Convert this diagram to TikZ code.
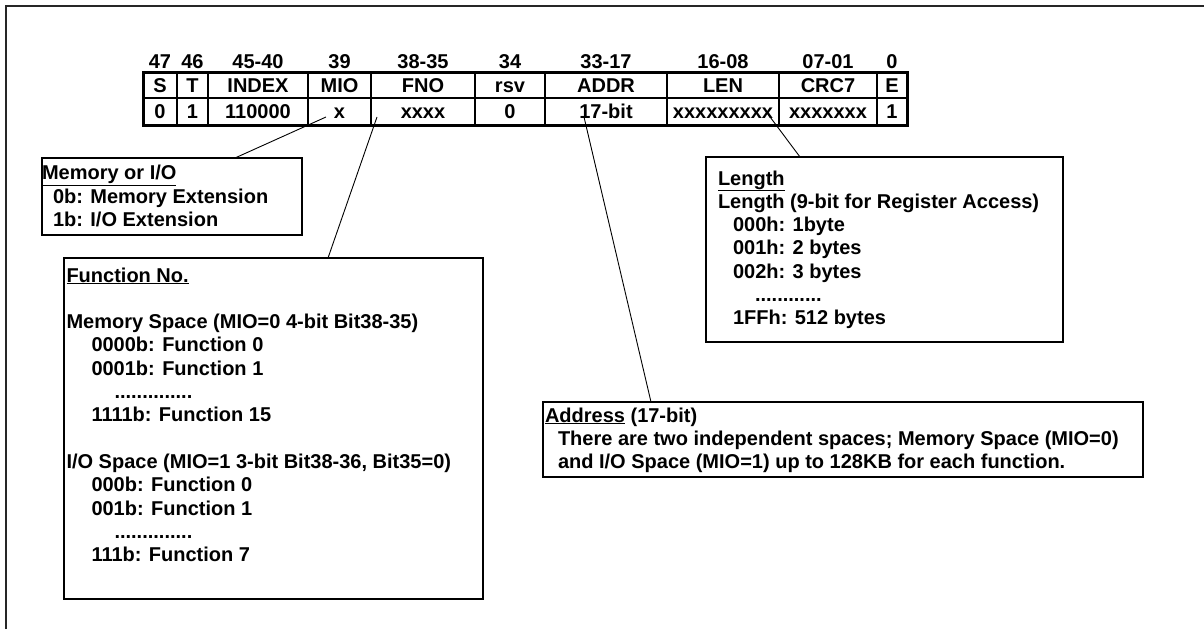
\documentclass[tikz,border=0pt]{standalone}
\usepackage{fontspec}
\setmainfont{Liberation Sans}
\usetikzlibrary{positioning}

% fixed-height text block, top aligned
\newcommand{\notebody}[4]{\parbox[c][#2][t]{#1}{\vspace*{#3}\strut#4}}

\begin{document}
\begin{tikzpicture}[x=1pt,y=-1pt,
  every node/.style={font=\bfseries\fontsize{20pt}{23.3pt}\selectfont,inner sep=0pt,outer sep=0pt},
  cell/.style={draw,line width=1.8pt,text height=14.5pt,text depth=0pt,anchor=north west},
  bitno/.style={text height=14.5pt,text depth=0pt},
  notebox/.style={draw,line width=1.2pt,anchor=north west},
  lead/.style={line width=0.9pt}]
  \useasboundingbox (0,0) rectangle (1204,629);
  \draw[line width=2.5pt,black!85] (6,629) -- (6,6) -- (1204,6);

  % command fields
  \foreach \l/\w/\bits/\nm/\val [count=\i] in {143/34/47/S/0, 177/31/46/T/1,
      208/100/45-40/INDEX/110000, 308/63/39/MIO/x, 371/104/38-35/FNO/xxxx,
      475/70/34/rsv/0, 545/122/33-17/ADDR/17-bit, 667/112/16-08/LEN/xxxxxxxxx,
      779/98/07-01/CRC7/xxxxxxx, 877/30/0/E/1}{
    \node[cell,minimum width=\w pt,minimum height=26pt] (h\i) at (\l,72) {\nm};
    \node[cell,minimum width=\w pt,minimum height=27pt] (v\i) at (\l,98) {\val};
    \node[bitno,above=4pt of h\i] (b\i) {\bits};
  }
  \draw[line width=3pt] (h1.north west) rectangle (v10.south east);

  % notes
  \node[notebox] (miobox) at (42,158) {\notebody{260pt}{77pt}{5.5pt}{%
    \underline{Memory or I/O}\\
    \hspace*{11pt}0b: Memory Extension\\
    \hspace*{11pt}1b: I/O Extension}};
  \node[notebox,inner xsep=2.5pt] (fnbox) at (64,258) {\notebody{414pt}{341pt}{7.7pt}{%
    \underline{Function No.}\\[\baselineskip]
    Memory Space (MIO=0 4-bit Bit38-35)\\
    \hspace*{25pt}0000b: Function 0\\
    \hspace*{25pt}0001b: Function 1\\
    \hspace*{48pt}..............\\
    \hspace*{25pt}1111b: Function 15\\[\baselineskip]
    I/O Space (MIO=1 3-bit Bit38-36, Bit35=0)\\
    \hspace*{25pt}000b: Function 0\\
    \hspace*{25pt}001b: Function 1\\
    \hspace*{48pt}..............\\
    \hspace*{25pt}111b: Function 7}};
  \node[notebox,inner xsep=12pt] (lenbox) at (706,157) {\notebody{333pt}{185pt}{11.7pt}{%
    \underline{Length}\\
    Length (9-bit for Register Access)\\
    \hspace*{15pt}000h: 1byte\\
    \hspace*{15pt}001h: 2 bytes\\
    \hspace*{15pt}002h: 3 bytes\\
    \hspace*{37pt}............\\
    \hspace*{15pt}1FFh: 512 bytes}};
  \node[notebox,inner xsep=2pt] (addrbox) at (543,402) {\notebody{596pt}{75pt}{3.7pt}{%
    \underline{Address} (17-bit)\\
    \hspace*{13pt}There are two independent spaces; Memory Space (MIO=0)\\
    \hspace*{13pt}and I/O Space (MIO=1) up to 128KB for each function.}};

  % leaders
  \draw[lead] ([xshift=193pt]miobox.north west) -- ([xshift=-13.5pt,yshift=-5.5pt]v4.center);
  \draw[lead] ([xshift=264pt]fnbox.north west) -- ([xshift=-46pt,yshift=-5.5pt]v5.center);
  \draw[lead] ([xshift=108pt]addrbox.north west) -- ([xshift=-22pt,yshift=-5.5pt]v7.center);
  \draw[lead] ([xshift=94pt]lenbox.north west) -- ([xshift=43pt]v8.center);
\end{tikzpicture}
\end{document}
